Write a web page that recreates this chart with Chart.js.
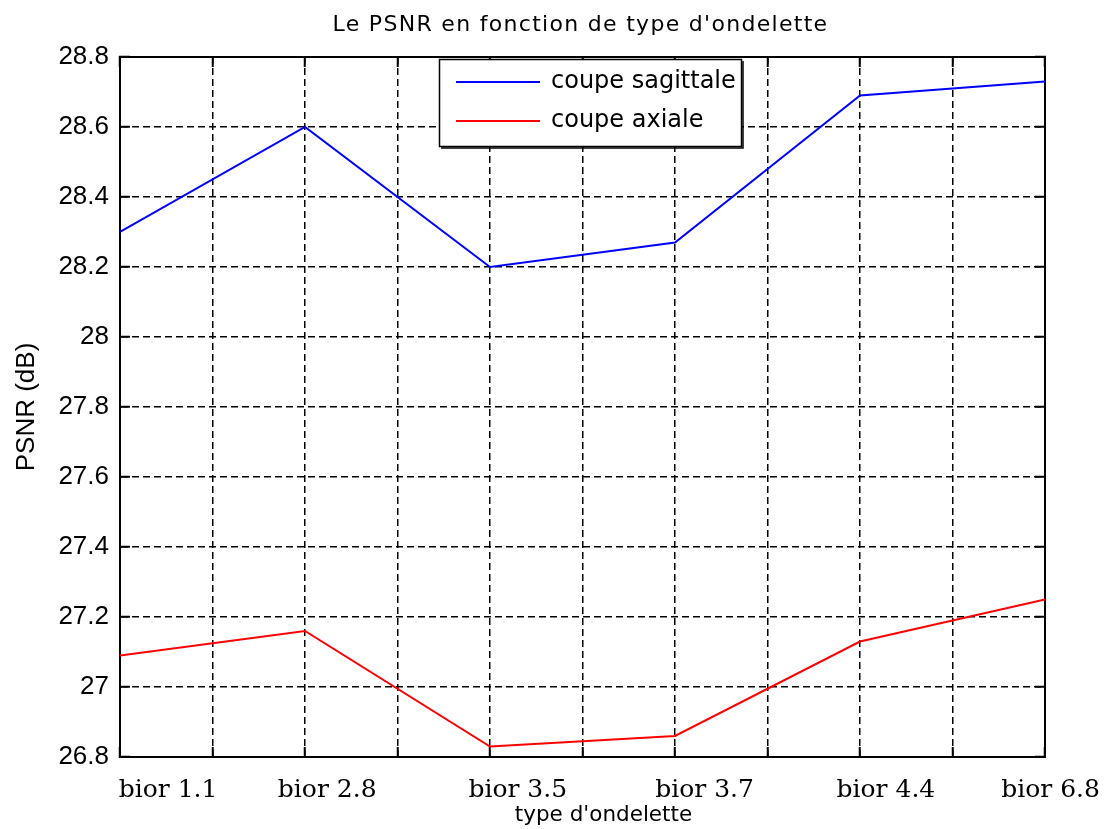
<!DOCTYPE html>
<html>
<head>
<meta charset="utf-8">
<title>PSNR</title>
<script src="https://cdn.jsdelivr.net/npm/chart.js@4.4.0/dist/chart.umd.min.js"></script>
<style>
  html, body { margin: 0; padding: 0; background: #fff; }
</style>
</head>
<body>
<canvas id="psnrChart" width="1110" height="829"></canvas>
<script>
const wavelets = ['bior 1.1', 'bior 2.8', 'bior 3.5', 'bior 3.7', 'bior 4.4', 'bior 6.8'];
const waveletIndex = [1, 2, 3, 4, 5, 6];
const psnrSagittale = [28.30, 28.60, 28.20, 28.27, 28.69, 28.73];
const psnrAxiale = [27.09, 27.16, 26.83, 26.86, 27.13, 27.25];
const seriesNames = ['coupe sagittale', 'coupe axiale'];
const chartTitle = 'Le PSNR en fonction de type d\'ondelette';
const xTitle = 'type d\'ondelette';
const yTitle = 'PSNR (dB)';

const toPoints = vals => vals.map((v, i) => ({ x: waveletIndex[i], y: v }));

// matlab-ish frame: solid border, ticks pointing inward
const frameBorder = { display: true, color: '#000', width: 2, dash: [7, 4] };
const inwardTicks = { color: '#000', lineWidth: 1.5, drawTicks: true, tickLength: -10, tickColor: '#000', tickWidth: 2 };
const noSize = (dim) => (s) => { s[dim] = 0; s.paddingLeft = 0; s.paddingRight = 0; };

// titles drawn by hand so the letter spacing can be widened
const textPlugin = {
  id: 'figTexts',
  afterDraw(chart) {
    const { ctx, chartArea } = chart;
    const mid = (chartArea.left + chartArea.right) / 2;
    ctx.save();
    ctx.fillStyle = '#000';
    ctx.textAlign = 'center';
    ctx.textBaseline = 'alphabetic';
    ctx.font = '22px "DejaVu Sans"';
    ctx.letterSpacing = '1.3px';
    ctx.fillText(chartTitle, mid - 2, chartArea.top - 26);
    ctx.font = '21.5px "DejaVu Sans"';
    ctx.letterSpacing = '0px';
    ctx.fillText(xTitle, mid + 21, chartArea.bottom + 64);
    ctx.restore();
  }
};

// boxed legend in the top of the plot
const legendPlugin = {
  id: 'boxLegend',
  afterDatasetsDraw(chart) {
    const { ctx, chartArea } = chart;
    const x0 = chartArea.left + 319, y0 = chartArea.top + 2, w = 302, h = 87;
    ctx.save();
    ctx.fillStyle = '#fff';
    ctx.fillRect(x0, y0, w, h);
    ctx.strokeStyle = '#000';
    ctx.lineWidth = 1.5;
    ctx.strokeRect(x0 + 0.5, y0 + 0.5, w, h);
    ctx.beginPath();
    ctx.moveTo(x0 + w + 2, y0 + 2);
    ctx.lineTo(x0 + w + 2, y0 + h + 2);
    ctx.lineTo(x0 + 2, y0 + h + 2);
    ctx.stroke();
    ctx.font = '24px "DejaVu Sans"';
    ctx.textAlign = 'left';
    ctx.textBaseline = 'middle';
    chart.data.datasets.forEach((ds, i) => {
      const y = y0 + 23 + i * 39;
      ctx.strokeStyle = ds.borderColor;
      ctx.lineWidth = ds.borderWidth;
      ctx.beginPath();
      ctx.moveTo(x0 + 17, y);
      ctx.lineTo(x0 + 101, y);
      ctx.stroke();
      ctx.fillStyle = '#000';
      ctx.fillText(ds.label, x0 + 112, y);
    });
    ctx.restore();
  }
};

new Chart(document.getElementById('psnrChart'), {
  type: 'line',
  data: {
    datasets: [
      { label: seriesNames[0], data: toPoints(psnrSagittale), borderColor: '#0000ff', borderWidth: 2, pointRadius: 0, tension: 0 },
      { label: seriesNames[1], data: toPoints(psnrAxiale), borderColor: '#ff0000', borderWidth: 2, pointRadius: 0, tension: 0 }
    ]
  },
  options: {
    responsive: false,
    animation: false,
    layout: { padding: { top: 57, right: 65, bottom: 0, left: 0 } },
    plugins: {
      legend: { display: false },
      title: { display: false },
      tooltip: { enabled: false }
    },
    scales: {
      x: {
        type: 'linear', position: 'bottom', min: 1, max: 6,
        ticks: { stepSize: 0.5, display: false },
        grid: inwardTicks,
        border: frameBorder,
        afterFit: noSize('height')
      },
      xl: {
        type: 'linear', axis: 'x', position: 'bottom', min: 1, max: 6,
        grid: { display: false, drawTicks: false },
        border: { display: false },
        afterBuildTicks: s => {
          const shift = [0.26, 0.12, 0.15, 0.16, 0.14, 0.03];
          s.ticks = waveletIndex.map((v, i) => ({ value: v + shift[i] }));
        },
        ticks: {
          autoSkip: false, maxRotation: 0, padding: 18, color: '#000',
          font: { family: 'DejaVu Serif', size: 25 },
          callback: (v, i) => wavelets[i]
        },
        afterFit: s => { s.height = 72; s.paddingLeft = 0; s.paddingRight = 0; }
      },
      xt: {
        type: 'linear', axis: 'x', position: 'top', min: 1, max: 6,
        ticks: { stepSize: 0.5, display: false },
        grid: Object.assign({}, inwardTicks, { drawOnChartArea: false }),
        border: frameBorder,
        afterFit: noSize('height')
      },
      y: {
        type: 'linear', position: 'left', min: 26.8, max: 28.8,
        ticks: {
          stepSize: 0.2, padding: 21, color: '#000',
          font: { family: 'Liberation Sans', size: 26 },
          callback: v => String(Number(v.toFixed(1)))
        },
        grid: inwardTicks,
        border: frameBorder,
        title: {
          display: true, text: yTitle, color: '#000',
          font: { family: 'Liberation Sans', size: 26 },
          padding: { top: 11, bottom: 0 }
        },
        afterFit: s => { s.width = 120; }
      },
      yr: {
        type: 'linear', axis: 'y', position: 'right', min: 26.8, max: 28.8,
        ticks: { stepSize: 0.2, display: false },
        grid: Object.assign({}, inwardTicks, { drawOnChartArea: false }),
        border: frameBorder,
        afterFit: noSize('width')
      }
    }
  },
  plugins: [legendPlugin, textPlugin]
});
</script>
</body>
</html>
